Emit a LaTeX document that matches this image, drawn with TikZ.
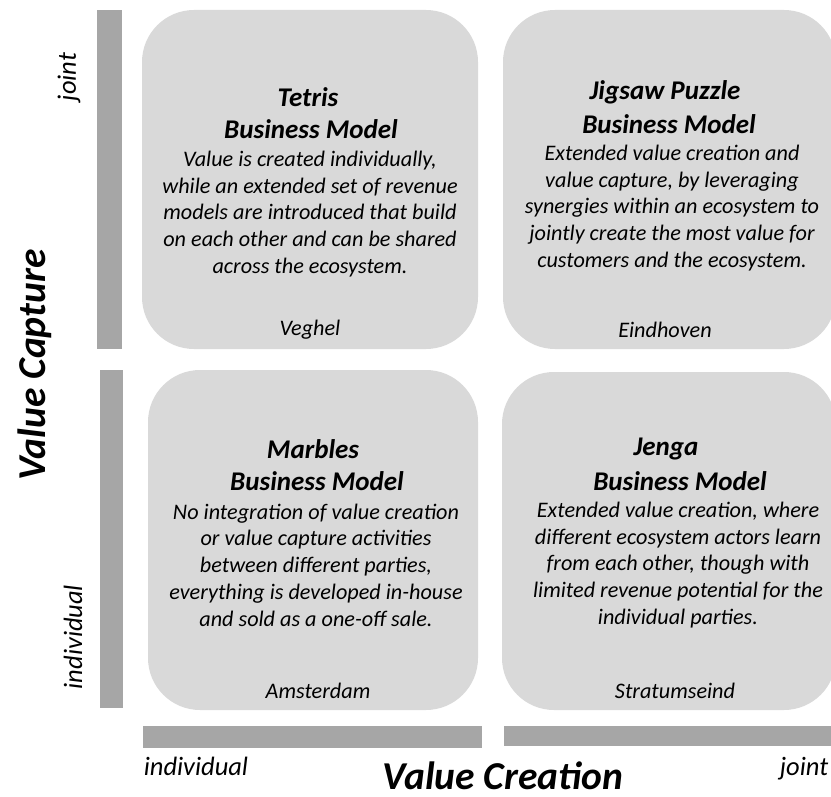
\documentclass[tikz,border=0pt]{standalone}
\usepackage{fontspec}
\setmainfont{Carlito}
\definecolor{boxgray}{HTML}{D9D9D9}
\definecolor{bargray}{HTML}{A6A6A6}
\begin{document}
\begin{tikzpicture}[x=1pt,y=-1pt,
  quad/.style={fill=boxgray, rounded corners=52pt},
  bar/.style={fill=bargray},
  ttl/.style={font=\fontsize{27}{32}\selectfont\bfseries\itshape},
  body/.style={align=center, font=\fontsize{22.2}{26.7}\selectfont\itshape},
  place/.style={font=\fontsize{22.2}{26}\selectfont\itshape},
  axis/.style={font=\fontsize{26.5}{30}\selectfont\itshape},
  axtitle/.style={inner sep=0pt, font=\fontsize{39.5}{44}\selectfont\bfseries\itshape}]
\useasboundingbox (0,0) rectangle (831,797);
\begin{scope}
\clip (0,0) rectangle (831,797);
% quadrants
\fill[quad] (142,10) rectangle (478,349);
\fill[quad] (503,10) rectangle (836,349);
\fill[quad] (148,370) rectangle (478,710);
\fill[quad] (502,372) rectangle (836,710);
% bars
\fill[bar] (97,10) rectangle (122,349);
\fill[bar] (100,370) rectangle (123,708);
\fill[bar] (143,726) rectangle (482,748);
\fill[bar] (504,726) rectangle (831,746);
\end{scope}
% texts
\node[ttl] (t1a) at (308,97) {Tetris};
\node[ttl] (t1b) at (311,129) {Business Model};
\node[body] (b1) at (310,214) {Value is created individually,\\while an extended set of revenue\\models are introduced that build\\on each other and can be shared\\across the ecosystem.};
\node[place] (p1) at (310,330) {Veghel};

\node[ttl] (t2a) at (665,92) {Jigsaw Puzzle};
\node[ttl] (t2b) at (669,124) {Business Model};
\node[body] (b2) at (672,208) {Extended value creation and\\value capture, by leveraging\\synergies within an ecosystem to\\jointly create the most value for\\customers and the ecosystem.};
\node[place] (p2) at (665,330) {Eindhoven};

\node[ttl] (t3a) at (313,449) {Marbles};
\node[ttl] (t3b) at (317,481) {Business Model};
\node[body] (b3) at (316,565) {No integration of value creation\\or value capture activities\\between different parties,\\everything is developed in-house\\and sold as a one-off sale.};
\node[place] (p3) at (318,691) {Amsterdam};

\node[ttl] (t4a) at (666,449) {Jenga};
\node[ttl] (t4b) at (680,481) {Business Model};
\node[body] (b4) at (678,565) {Extended value creation, where\\different ecosystem actors learn\\from each other, though with\\limited revenue potential for the\\individual parties.};
\node[place] (p4) at (675,691) {Stratumseind};

% axes labels
\node[axis, rotate=90] (aj) at (69,77) {joint};
\node[axis, rotate=90] (ai) at (73,637) {individual};
\node[axtitle, rotate=90] (vc) at (35,365) {Value Capture};
\node[axis] (bi) at (196,766) {individual};
\node[axis] (bj) at (804,769) {joint};
\node[axtitle] (vcr) at (503,776) {Value Creation};
\end{tikzpicture}
\end{document}
